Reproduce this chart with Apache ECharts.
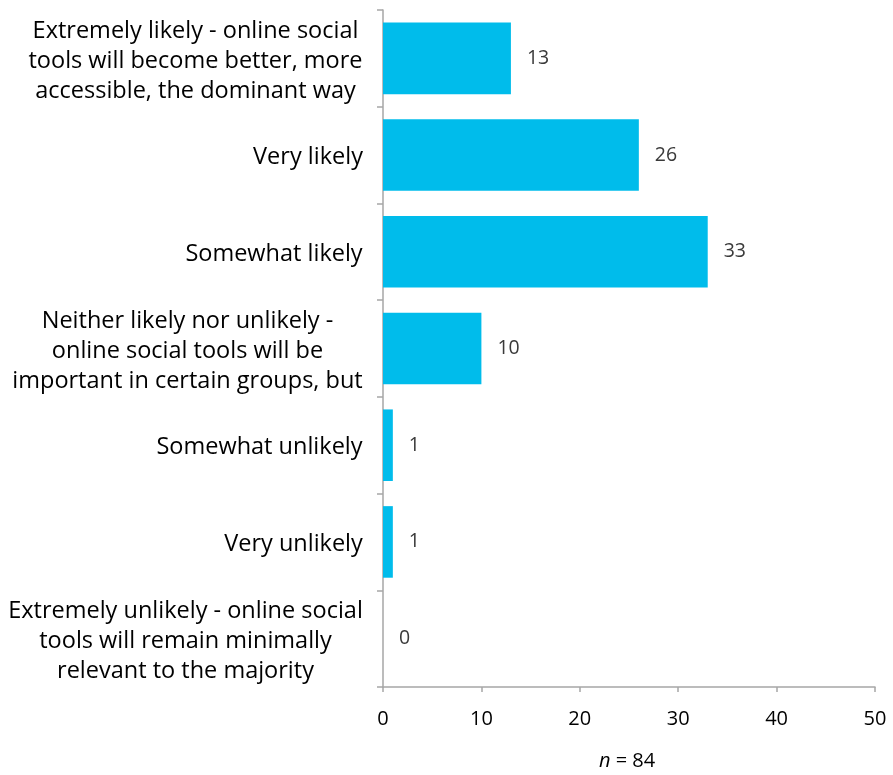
<!DOCTYPE html>
<html>
<head>
<meta charset="utf-8">
<script src="https://cdn.jsdelivr.net/npm/echarts@6/dist/echarts.min.js"></script>
<style>
  html, body { margin: 0; padding: 0; background: #ffffff; }
  #chart { width: 893px; height: 775px; }
</style>
</head>
<body>
<div id="chart"></div>
<script>
// Response categories, top to bottom
const categories = [
  'Extremely likely - online social\ntools will become better, more\naccessible, the dominant way',
  'Very likely',
  'Somewhat likely',
  'Neither likely nor unlikely -\nonline social tools will be\nimportant in certain groups, but',
  'Somewhat unlikely',
  'Very unlikely',
  'Extremely unlikely - online social\ntools will remain minimally\nrelevant to the majority'
];
// Number of respondents per category
const counts = [13, 26, 33, 10, 1, 1, 0];
// Value-axis ticks
const axisMin = 0, axisMax = 50, axisStep = 10;
const sampleSize = 84;

const FONT = '"Open Sans", "Noto Sans", sans-serif';
const CAT_SIZE = 23.5;

// Width of the widest line of a label, so its lines can be centred
// inside a block that sits flush against the axis.
const measureCtx = document.createElement('canvas').getContext('2d');
measureCtx.font = CAT_SIZE + 'px ' + FONT;
function blockWidth(label) {
  return Math.ceil(Math.max(...label.split('\n').map(l => measureCtx.measureText(l).width)));
}

const rich = {};
categories.forEach((c, i) => {
  rich['c' + i] = {
    width: blockWidth(c), align: 'center',
    fontFamily: FONT, fontSize: CAT_SIZE, lineHeight: 30, color: '#000000'
  };
});

const chart = echarts.init(document.getElementById('chart'), null, { renderer: 'canvas' });
chart.setOption({
  backgroundColor: '#ffffff',
  animation: false,
  grid: { left: 383, right: 18, top: 10, bottom: 88, containLabel: false },
  xAxis: {
    type: 'value',
    min: axisMin, max: axisMax, interval: axisStep,
    axisLine: { show: true, lineStyle: { color: '#a6a6a6', width: 1.5 } },
    axisTick: { show: true, length: 5, lineStyle: { color: '#a6a6a6', width: 1.5 } },
    splitLine: { show: false },
    axisLabel: { color: '#000000', fontFamily: FONT, fontSize: 20, margin: 22 }
  },
  yAxis: {
    type: 'category',
    inverse: true,
    data: categories,
    axisLine: { show: true, lineStyle: { color: '#a6a6a6', width: 1.5 } },
    axisTick: { show: true, length: 6, alignWithLabel: false, lineStyle: { color: '#a6a6a6', width: 1.5 } },
    axisLabel: {
      margin: 20, align: 'right', padding: [5, 0, 0, 0],
      formatter: (value, index) => '{c' + index + '|' + value.split('\n').join('}\n{c' + index + '|') + '}',
      rich: rich
    }
  },
  series: [{
    type: 'bar',
    data: counts,
    barCategoryGap: '26%',
    itemStyle: { color: '#00bceb' },
    label: {
      show: true, position: 'right', distance: 16,
      color: '#3a3a3a', fontFamily: FONT, fontSize: 19.5
    }
  }],
  graphic: [{
    type: 'text',
    left: 599, top: 751,
    style: {
      text: '{i|n} = ' + sampleSize,
      rich: {
        i: { fontStyle: 'italic', fontFamily: FONT, fontSize: 20, fill: '#000000' }
      },
      font: '20px ' + FONT,
      fill: '#000000'
    }
  }]
});
</script>
</body>
</html>
